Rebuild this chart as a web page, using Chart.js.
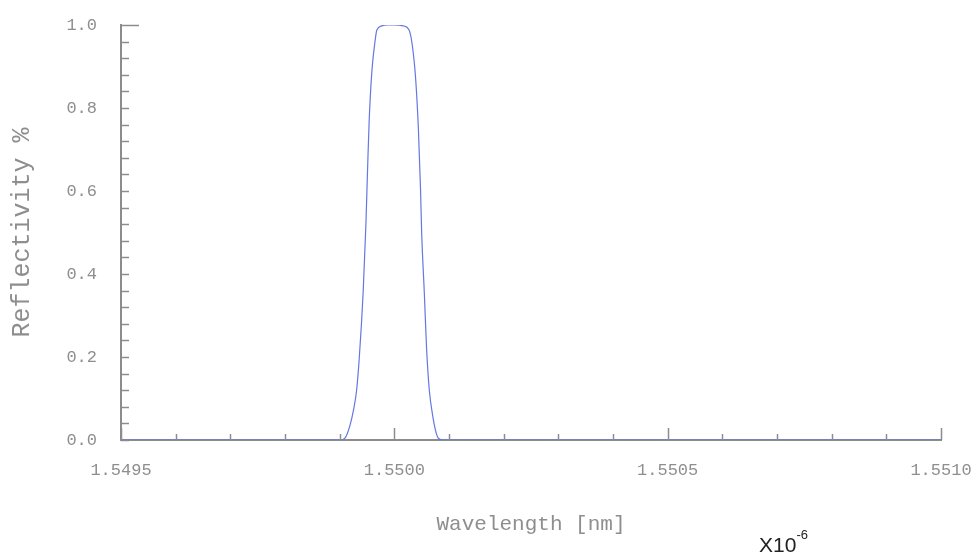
<!DOCTYPE html>
<html>
<head>
<meta charset="utf-8">
<script src="https://cdn.jsdelivr.net/npm/chart.js@4.4.0/dist/chart.umd.min.js"></script>
<style>
  body { margin: 0; background: #fff; }
  #wrap { position: relative; width: 974px; height: 554px; }
  #scale {
    position: absolute; left: 759px; top: 533px;
    font-family: "Liberation Sans", Arial, sans-serif; font-size: 21px; color: #222;
    line-height: 1;
  }
  #scale sup { font-size: 13px; position: relative; top: -5px; }
</style>
</head>
<body>
<div id="wrap">
  <canvas id="myChart" width="974" height="554"></canvas>
  <div id="scale">X10<sup>-6</sup></div>
</div>
<script>
const wavelength = [1.5495, 1.549901, 1.549910, 1.549919, 1.549925, 1.549931, 1.549936, 1.549943,
    1.549948, 1.549951, 1.549954, 1.549959, 1.549965, 1.549968, 1.549977, 1.549988, 1.550000,
    1.550016, 1.550027, 1.550033, 1.550039, 1.550044, 1.550048, 1.550050, 1.550055, 1.550059,
    1.550064, 1.550070, 1.550075, 1.550080, 1.550088, 1.5510];
const reflectivity = [0, 0, 0.005, 0.036, 0.07, 0.12, 0.2, 0.357,
    0.52, 0.65, 0.77, 0.89, 0.964, 0.988, 0.998, 1.0, 1.0,
    0.998, 0.988, 0.95, 0.87, 0.75, 0.6, 0.5, 0.35, 0.22,
    0.12, 0.06, 0.025, 0.005, 0, 0];

// Achsenbeschriftungen
const xTickValues = [1.5495, 1.5500, 1.5505, 1.5510];
const yTickValues = [0.0, 0.2, 0.4, 0.6, 0.8, 1.0];
const xMinorStep = 0.0001;
const yMinorStep = 0.04;

const axisGray = '#8c8c8c';
const labelGray = '#8e8e8e';

// Plugin: kleine Striche nach innen zeichnen
const innerTicks = {
    id: 'innerTicks',
    afterDatasetsDraw(chart) {
        const c = chart.ctx;
        const xs = chart.scales.x, ys = chart.scales.y;
        const area = chart.chartArea;
        c.save();
        c.strokeStyle = axisGray;
        c.lineWidth = 1.5;
        // x-Achse
        const nx = Math.round((xs.max - xs.min) / xMinorStep);
        for (let i = 0; i <= nx; i++) {
            const v = xs.min + i * xMinorStep;
            const px = Math.round(xs.getPixelForValue(v)) + 0.5;
            const major = xTickValues.some(t => Math.abs(t - v) < 1e-9);
            const len = major ? 12 : 6;
            c.beginPath();
            c.moveTo(px, area.bottom);
            c.lineTo(px, area.bottom - len);
            c.stroke();
        }
        // y-Achse
        const ny = Math.round((ys.max - ys.min) / yMinorStep);
        for (let i = 0; i <= ny; i++) {
            const v = ys.min + i * yMinorStep;
            const py = Math.round(ys.getPixelForValue(v)) + 0.5;
            const len = i === ny ? 18 : 8;
            c.beginPath();
            c.moveTo(area.left, py);
            c.lineTo(area.left + len, py);
            c.stroke();
        }
        c.restore();
    }
};

const ctx = document.getElementById('myChart').getContext('2d');
const points = wavelength.map((w, i) => ({ x: w, y: reflectivity[i] }));

const myChart = new Chart(ctx, {
    type: 'scatter',
    data: {
        datasets: [{
            data: points,
            showLine: true,
            borderColor: 'rgb(100, 120, 225)',
            borderWidth: 1.2,
            pointRadius: 0,
            cubicInterpolationMode: 'monotone'
        }]
    },
    options: {
        responsive: false,
        animation: false,
        layout: { padding: { top: 25, right: 33, left: 0, bottom: 0 } },
        plugins: { legend: { display: false }, tooltip: { enabled: false } },
        scales: {
            x: {
                type: 'linear',
                min: 1.5495,
                max: 1.5510,
                afterFit: s => { s.height = 114; s.paddingLeft = 0; s.paddingRight = 0; },
                afterBuildTicks: s => { s.ticks = xTickValues.map(v => ({ value: v })); },
                grid: { display: false },
                border: { display: true, color: axisGray, width: 2 },
                ticks: {
                    color: labelGray,
                    padding: 12,
                    maxRotation: 0,
                    autoSkip: false,
                    font: { family: 'Liberation Mono', size: 17 },
                    callback: v => v.toFixed(4)
                },
                title: {
                    display: true,
                    text: 'Wavelength [nm]',
                    color: labelGray,
                    font: { family: 'Liberation Mono', size: 21 },
                    padding: { top: 0, bottom: 17 }
                }
            },
            y: {
                min: 0,
                max: 1,
                afterFit: s => { s.width = 121; s.paddingTop = 0; s.paddingBottom = 0; },
                afterBuildTicks: s => { s.ticks = yTickValues.map(v => ({ value: v })); },
                grid: { display: false },
                border: { display: true, color: axisGray, width: 2 },
                ticks: {
                    color: labelGray,
                    padding: 16,
                    font: { family: 'Liberation Mono', size: 17 },
                    callback: v => v.toFixed(1)
                },
                title: {
                    display: true,
                    text: 'Reflectivity %',
                    color: labelGray,
                    font: { family: 'Liberation Mono', size: 25 },
                    padding: { top: 7, bottom: 0 }
                }
            }
        }
    },
    plugins: [innerTicks]
});
</script>
</body>
</html>
